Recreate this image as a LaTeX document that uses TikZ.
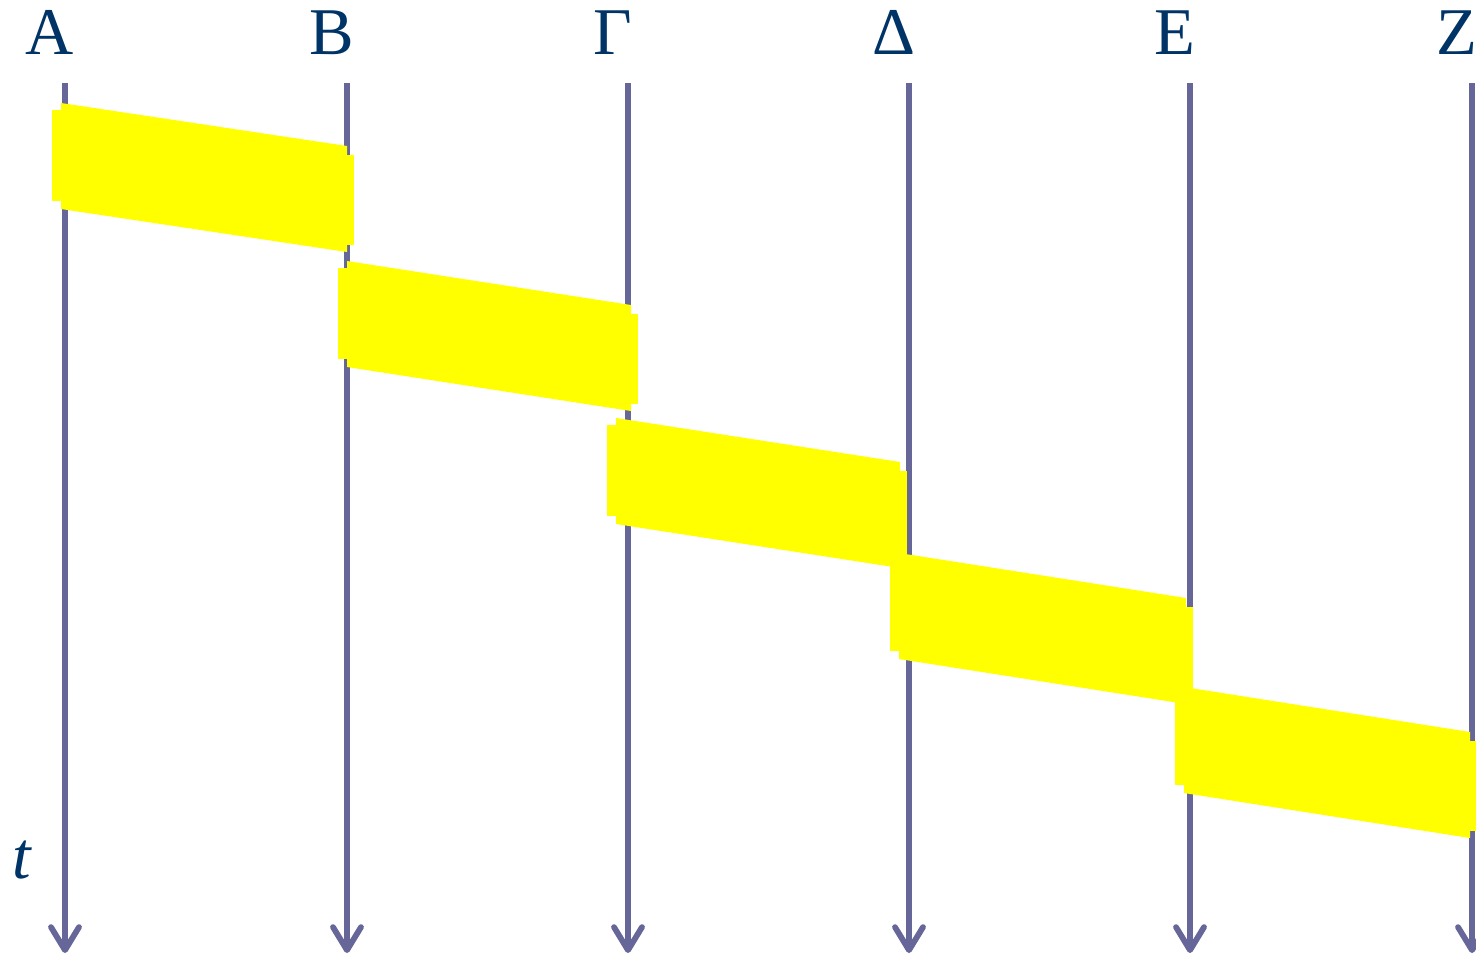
\documentclass[tikz,border=0pt]{standalone}
\usepackage{fontspec}
\setmainfont{Liberation Serif}
\usetikzlibrary{arrows.meta}
\definecolor{lanegray}{RGB}{102,102,153}
\definecolor{labelblue}{RGB}{0,51,102}
\definecolor{tokenyellow}{RGB}{255,255,0}
\tikzset{ringdiag/.style={x=0.02cm,y=-0.02cm},
  lane/.style={lanegray,line width=3.3pt,-{Straight Barb[length=4.6mm,width=5.6mm,round]}},
  lanelabel/.style={labelblue,anchor=base,inner sep=0pt,font=\fontsize{38}{40}\selectfont}}
\begin{document}
\begin{tikzpicture}[ringdiag]
    \useasboundingbox (0,0) rectangle (1476,958);
    \foreach \n/\x/\lab in {A/65/Α,B/347/Β,G/628/Γ,D/909/Δ,E/1190/Ε,Z/1472/Ζ} {
      \coordinate (top\n) at (\x,83);
      \coordinate (bot\n) at (\x,953);
      \node[lanelabel] (lab\n) at (\x-15,54) {\lab};
      \draw[lane] (top\n) -- (bot\n);
    }
    \node[lanelabel,font=\fontsize{38}{40}\selectfont\itshape] (tlab) at (22,878) {t}; % time
    \foreach \xl/\yl/\xr/\yr in {61/103/347/146,347/261/631/305,616/418/900/462,899/553/1186/598,1184/687/1470/732} {
      \fill[tokenyellow] (\xl,\yl) -- (\xr,\yr) -- (\xr,\yr+106) -- (\xl,\yl+106) -- cycle;
      \fill[tokenyellow] (\xl-9,\yl+7) rectangle (\xl+12,\yl+98);
      \fill[tokenyellow] (\xr-12,\yr+9) rectangle (\xr+7,\yr+99);
    }
  \end{tikzpicture}
\end{document}
